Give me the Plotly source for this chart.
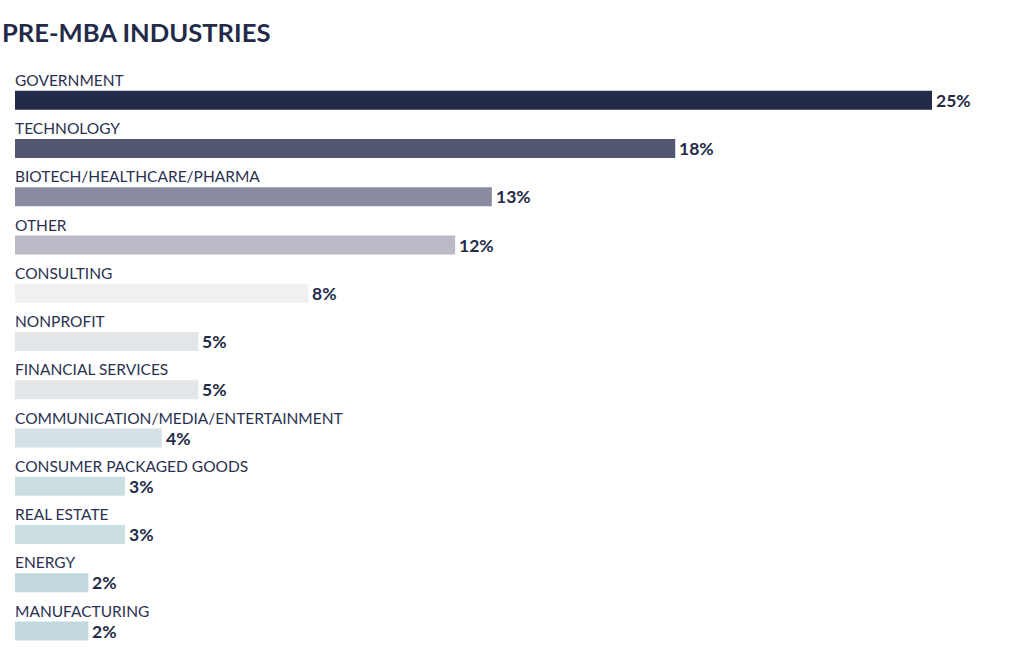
import plotly.graph_objects as go

categories = ["GOVERNMENT", "TECHNOLOGY", "BIOTECH/HEALTHCARE/PHARMA", "OTHER", "CONSULTING",
              "NONPROFIT", "FINANCIAL SERVICES", "COMMUNICATION/MEDIA/ENTERTAINMENT",
              "CONSUMER PACKAGED GOODS", "REAL ESTATE", "ENERGY", "MANUFACTURING"]
values = [25, 18, 13, 12, 8, 5, 5, 4, 3, 3, 2, 2]
colors = ["#232b48", "#535670", "#8a8ba0", "#babac6", "#f0f0f0", "#e3e6e9", "#e3e7ea",
          "#d5e1e5", "#cbdfe3", "#cbdfe3", "#c1d8de", "#c1d8de"]
value_labels = [f"{v}%" for v in values]

FONT = "Lato"
DARK = "#232b48"

pos = list(range(len(categories)))

fig = go.Figure(go.Bar(
    x=values, y=pos, orientation="h",
    marker=dict(color=colors, line=dict(width=0)),
    width=0.394,
    hoverinfo="skip",
))

for i, (c, v, t) in enumerate(zip(categories, values, value_labels)):
    fig.add_annotation(x=0, y=i, xref="x", yref="y", text=c, showarrow=False,
                       xanchor="left", yanchor="middle", yshift=20.5, xshift=-2,
                       font=dict(family=FONT, size=15.5, color="#2b3150"))
    fig.add_annotation(x=v, y=i, xref="x", yref="y", text=f"<b>{t}</b>", showarrow=False,
                       xanchor="left", yanchor="middle", xshift=2, yshift=0,
                       font=dict(family=FONT, size=17.5, color=DARK))

fig.update_layout(
    width=1020, height=650,
    margin=dict(l=15, r=0, t=52.3, b=2.4),
    paper_bgcolor="white", plot_bgcolor="white",
    showlegend=False,
    title=dict(text="<b>PRE-MBA INDUSTRIES</b>", x=2/1020, xref="container", xanchor="left",
               y=1 - 33/650, yref="container", yanchor="middle",
               font=dict(family=FONT, size=25.6, color=DARK)),
    xaxis=dict(range=[0, 1005/36.68], visible=False, fixedrange=True),
    yaxis=dict(range=[11.35, -1], visible=False, fixedrange=True),
)

fig.write_html("out.html", config={"displayModeBar": False},
               post_script="document.body.style.margin='0';")
